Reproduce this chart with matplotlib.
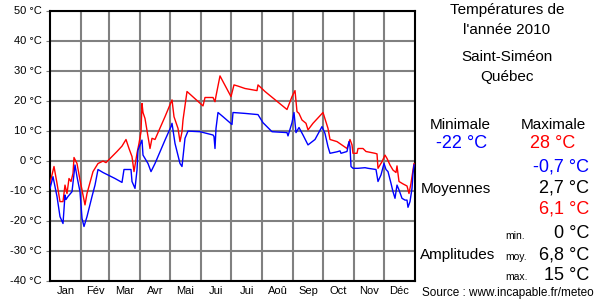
import matplotlib
matplotlib.use("Agg")
import matplotlib.pyplot as plt

plt.rcParams['font.family'] = ['Liberation Sans', 'DejaVu Sans']

# Daily maxima (day of year, degC) - sparse readings, gaps joined by straight lines
max_days = [0, 4, 7, 10, 13, 15, 17, 19, 21, 23, 24, 27, 30, 33, 35, 37, 43, 48, 53, 56,
            67, 72, 76, 79, 82, 84, 87, 89, 91, 92, 93, 95, 98, 100, 102, 105, 115, 122, 124,
            128, 130, 132, 133, 137, 153, 155, 163, 165, 166, 170, 173, 181, 184, 188, 195,
            207, 208, 215, 237, 242, 245, 247, 249, 252, 256, 258, 263, 273, 278, 280, 287,
            297, 300, 302, 303, 307, 308, 313, 316, 325, 327, 328, 332, 335, 337, 340, 343,
            346, 347, 349, 353, 357, 359, 361, 363, 364]
max_temps = [-7.6, -2, -7.6, -13.7, -13.7, -8.2, -11, -6, -7, -4.3, 1, -1, -6.5, -11.5, -14.8,
             -11, -3.7, -1, -0.2, -0.7,
             3, 4.8, 7, 4, 1.3, -3.7, 2.4, 5.7, 9.6, 19, 16, 14, 8, 4, 7.4, 7, 14.6, 20.2, 14.6,
             10.7, 6.3, 9.6, 13.5, 23, 18.2, 21, 21, 19.6, 21.5, 28.2, 26.3, 21.3, 25.2, 24.8, 24,
             23.3, 25.2, 23, 17, 21.3, 23.3, 16.3, 15.7, 13.5, 12.4, 10.2, 12.4, 16, 10.7, 7, 6.3,
             4, 7, 5.2, 2.4, 2.4, 4, 4, 3, 2.4, 2.2, -2.6, -0.4, 1.8, 0.7, -1.5, -3.2,
             -4, -1.8, -7, -7.8, -8.5, -11, -7.6, -3.2, -1]

# Daily minima
min_days = [0, 3, 7, 10, 13, 15, 16, 18, 22, 25, 27, 30, 32, 34, 37, 42, 45, 48, 53,
            65, 72, 74, 81, 82, 85, 87, 88, 92, 93, 98, 101, 105, 115, 121, 122, 125, 130, 132,
            135, 138, 150, 163, 164, 165, 166, 168, 173, 182, 183, 195, 208, 213, 222, 237, 238,
            242, 244, 246, 249, 253, 258, 265, 272, 275, 278, 280, 287, 290, 291, 297, 299, 300,
            301, 303, 308, 315, 318, 326, 328, 331, 334, 336, 338, 341, 343, 345, 347, 349, 352,
            355, 357, 358, 360, 362, 363, 364]
min_temps = [-9.3, -5.4, -12, -18.7, -21, -11.5, -13, -12, -10.4, -1.5, -5.4, -10.4, -19.3, -22,
             -18.7, -12, -8.2, -3, -4,
             -6, -7.3, -3, -3, -7, -9.3, -3.2, 3.5, 6.8, 1.8, -1, -3.7, -1, 6.8, 11.3, 12.4, 5.7,
             -1, -2, 7.4, 9.8, 9.6, 8.5, 8, 4, 10.7, 16, 14.6, 12, 16, 15.7, 15.3, 12.6, 9.6, 9.3,
             8.2, 12.6, 16, 9.3, 11, 8.5, 5.2, 7, 11.3, 9, 4.6, 2.4, 2.9, 3.2, 2.4, 3, 6.3, 4.6,
             -2, -2.6, -2.6, -2.4, -2.6, -3, -7, -4.8, -1, -3, -3.7, -7.6, -10.4, -12.6, -8.2,
             -9.8, -12.6, -13.2, -13.2, -15.6, -13.7, -9.3, -4.3, -1.5]

months = ['Jan', 'Fév', 'Mar', 'Avr', 'Mai', 'Jui', 'Jui', 'Aoû', 'Sep', 'Oct', 'Nov', 'Déc']
month_len = [31, 28, 31, 30, 31, 30, 31, 31, 30, 31, 30, 31]
y_ticks = [50, 40, 30, 20, 10, 0, -10, -20, -30, -40]

title_lines = ["Températures de", "l'année 2010"]
place_lines = ["Saint-Siméon", "Québec"]
t_min, t_max = "-22 °C", "28 °C"
averages = ["-0,7 °C", "2,7 °C", "6,1 °C"]
amplitudes = [("min.", "0 °C"), ("moy.", "6,8 °C"), ("max.", "15 °C")]
source = "Source : www.incapable.fr/meteo"

W, H = 600, 300
fig = plt.figure(figsize=(6, 3), dpi=100)
fig.patch.set_facecolor('white')
ax = fig.add_axes([50 / W, 19.5 / H, 365 / W, 270 / H])

# month boundaries and centres
bounds = []
total = 0
for n in month_len:
    total += n
    bounds.append(total)
centres = [b - n / 2 for b, n in zip(bounds, month_len)]

for b in bounds[:-1]:
    ax.axvline(b, color='#808080', lw=1.5, zorder=1)
for t in y_ticks:
    ax.axhline(t, color='#808080', lw=1.5, zorder=1)

ax.plot(max_days, max_temps, color='#ff0000', lw=1.0, zorder=3)
ax.plot(min_days, min_temps, color='#0000ff', lw=1.0, zorder=3)

ax.set_xlim(0, 365)
ax.set_ylim(-40, 50)
ax.set_yticks(y_ticks)
ax.set_yticklabels([f"{t} °C" for t in y_ticks], fontsize=8)
ax.tick_params(axis='y', length=3, color='#808080', pad=3)
ax.set_xticks(centres)
ax.set_xticklabels(months, fontsize=8)
ax.tick_params(axis='x', length=0, pad=4)
for s in ax.spines.values():
    s.set_color('black')
    s.set_linewidth(1.5)


def txt(x, y, s, size=11, color='black', ha='center'):
    fig.text(x / W, 1 - y / H, s, fontsize=size, color=color, ha=ha, va='center')


txt(507, 10, title_lines[0])
txt(507, 30, title_lines[1])
txt(507, 57, place_lines[0])
txt(507, 77, place_lines[1])
txt(460, 125, "Minimale")
txt(553, 125, "Maximale")
txt(462, 143, t_min, size=13, color='#0000ff')
txt(553, 143, t_max, size=13, color='#ff0000')
txt(456, 189, "Moyennes")
for y, s, c in zip([167, 188, 209], averages, ['#0000ff', 'black', '#ff0000']):
    txt(589, y, s, size=13, color=c, ha='right')
txt(458, 255, "Amplitudes")
for y, (lab, val) in zip([234, 255, 275], amplitudes):
    fig.text(505 / W, 1 - (y + 2) / H, lab, fontsize=7.5, ha='left', va='center')
    txt(589, y, val, size=13, ha='right')
txt(508, 293, source, size=8.5)

fig.savefig('out.png', dpi=100)
